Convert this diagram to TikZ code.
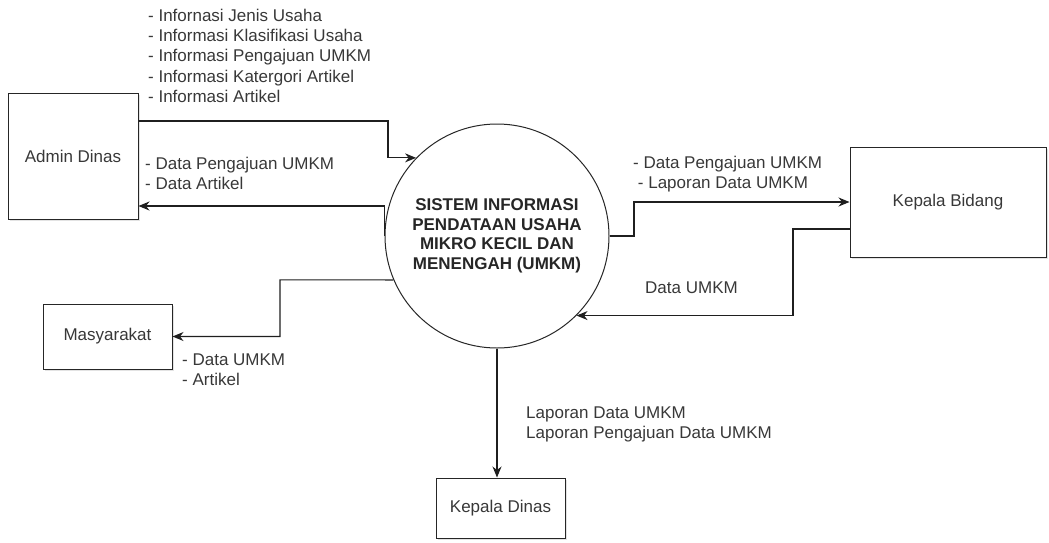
\documentclass[tikz,border=0pt]{standalone}
\usepackage{fontspec}
\setmainfont{Liberation Sans}
\usetikzlibrary{arrows.meta,shadows}
\begin{document}
\begin{tikzpicture}[x=1pt,y=-1pt,
  txt/.style={font=\fontsize{17}{20.4}\selectfont, text=black!78},
  entity/.style={draw=black!85, fill=white, line width=1pt, inner sep=0pt, txt,
     drop shadow={opacity=0.22, shadow xshift=2pt, shadow yshift=-2pt}},
  proc/.style={circle, draw=black!85, fill=white, line width=1pt, minimum size=224pt,
     inner sep=0pt, align=center, font=\fontsize{17}{19.6}\selectfont\bfseries, text=black!85},
  lbl/.style={anchor=north west, inner sep=0pt, align=left, txt},
  flow/.style={draw=black!88, line width=1.1pt, -{Stealth[length=11pt,width=9pt,inset=3.5pt]}}
]
\useasboundingbox (0,0) rectangle (1049,542);

% entities and process
\node[entity, minimum width=130pt, minimum height=126pt] (admin) at (73,156) {Admin Dinas};
\node[entity, minimum width=129pt, minimum height=65pt] (mas) at (107.5,336.5) {Masyarakat};
\node[entity, minimum width=196pt, minimum height=110pt] (kb) at (948,202) {Kepala Bidang};
\node[entity, minimum width=129pt, minimum height=60pt] (kd) at (500.5,508) {Kepala Dinas};
\node[proc] (c) at (497,236) {SISTEM INFORMASI\\PENDATAAN USAHA\\MIKRO KECIL DAN\\MENENGAH (UMKM)};

% flows
\draw[flow] (admin.east |- 0,121) -- (388,121) |- (c.136);
\draw[flow] (c.west) |- (admin.east |- 0,206);
\draw[flow] (c.203) -- (280,279.8) |- (mas.east);
\draw[flow] (c.east) -- (634,236) |- (kb.west);
\draw[flow] (kb.west |- 0,229) -- (793,229) |- (c.-45);
\draw[flow] (c.south) -- (c.south |- kd.north);

% labels
\node[lbl] (l1) at (148,8.5) {- Infornasi Jenis Usaha\\- Informasi Klasifikasi Usaha\\- Informasi Pengajuan UMKM\\- Informasi Katergori Artikel\\- Informasi Artikel};
\node[lbl] (l2) at (145,156.5) {- Data Pengajuan UMKM\\- Data Artikel};
\node[lbl] (l3) at (633,155.5) {- Data Pengajuan UMKM\\\ - Laporan Data UMKM};
\node[lbl] (l4) at (645,281.5) {Data UMKM};
\node[lbl] (l5) at (182,353.5) {- Data UMKM\\- Artikel};
\node[lbl] (l6) at (526,406.5) {Laporan Data UMKM\\Laporan Pengajuan Data UMKM};
\end{tikzpicture}
\end{document}
